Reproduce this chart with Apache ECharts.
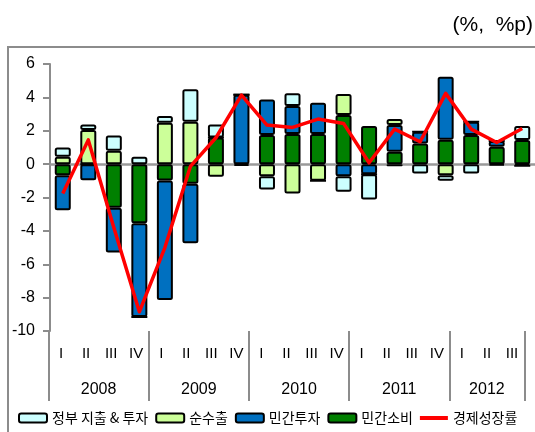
<!DOCTYPE html>
<html>
<head>
<meta charset="utf-8">
<script src="https://cdn.jsdelivr.net/npm/echarts@6/dist/echarts.min.js"></script>
<style>
html,body{margin:0;padding:0;background:#fff;}
#c{width:535px;height:432px;}
</style>
</head>
<body>
<div id="c"></div>
<script>
// ---- data ----
const years = ['2008', '2009', '2010', '2011', '2012'];
const quarterNames = ['I', 'II', 'III', 'IV'];
const quarterCount = [4, 4, 4, 4, 3];

// contributions (%p)
const consumption = [-0.66, 0, -2.62, -3.54, -0.98, -1.18, 1.6, -0.1, 1.74, 1.8, 1.8, 2.94, 2.28, 0.74, 1.24, 1.46, 1.74, 1.04, 1.44];   // 민간소비
const investment  = [-2.1, -0.96, -2.68, -5.62, -7.16, -3.56, 0, 4.15, 2.14, 1.68, 1.88, -0.72, -0.6, 1.6, 0.7, 3.78, 0.8, 0.34, -0.1]; // 민간투자
const netExports  = [0.44, 2.04, 0.8, 0, 2.48, 2.54, -0.76, 0, -0.72, -1.76, -1.0, 1.26, 0, 0.36, 0, -0.66, 0, 0, 0];                 // 순수출
const government  = [0.56, 0.34, 0.92, 0.44, 0.4, 1.94, 0.78, 0, -0.8, 0.76, 0, -0.94, -1.52, -0.12, -0.56, -0.34, -0.56, -0.08, 0.84]; // 정부 지출 & 투자
const gdpGrowth   = [-1.76, 1.45, -3.8, -8.85, -5.0, -0.14, 1.58, 4.14, 2.34, 2.2, 2.7, 2.44, 0.08, 2.1, 1.34, 4.24, 2.1, 1.3, 2.14]; // 경제성장률

const seriesNames = ['정부 지출 & 투자', '순수출', '민간투자', '민간소비', '경제성장률'];
const seriesColors = ['#ccffff', '#ccff99', '#0070c0', '#008000', '#ff0000'];

// ---- derived category lists ----
const categories = [];
const quarterLabels = [];
years.forEach((y, yi) => {
  for (let q = 0; q < quarterCount[yi]; q++) {
    categories.push(y + ' ' + quarterNames[q]);
    quarterLabels.push(quarterNames[q]);
  }
});
const nQ = categories.length;
// half-step positions for year labels / separators
const halfSteps = [];
const halfLabel = {};
const sepIdx = {};
let start = 0;
years.forEach((y, yi) => {
  sepIdx[start * 2] = true;
  halfLabel[start * 2 + quarterCount[yi]] = y;
  start += quarterCount[yi];
});
sepIdx[start * 2] = true;
for (let i = 0; i <= nQ * 2; i++) halfSteps.push(String(i));

const numFont = "'Liberation Sans', Arial, sans-serif";
const kr = "'Noto Sans CJK KR', 'Noto Sans', sans-serif";
const gray = '#8c8c8c';

const chart = echarts.init(document.getElementById('c'));

function barSeries(name, data, color) {
  return {
    name: name,
    type: 'bar',
    stack: 'total',
    xAxisIndex: 0,
    yAxisIndex: 0,
    barWidth: 16,
    data: data,
    itemStyle: { color: color, borderColor: '#000', borderWidth: 2, borderRadius: 1.5 }
  };
}

chart.setOption({
  animation: false,
  backgroundColor: '#fff',
  title: {
    text: '(%,  %p)',
    right: -3,
    top: 10,
    textStyle: { fontFamily: numFont, fontSize: 21, fontWeight: 'normal', color: '#000' }
  },
  graphic: [{
    type: 'rect',
    shape: { x: 8, y: 47, width: 540, height: 400 },
    style: { fill: 'none', stroke: gray, lineWidth: 2 },
    silent: true,
    z: -1
  }],
  legend: {
    data: [
      seriesNames[0], seriesNames[1], seriesNames[2], seriesNames[3],
      { name: seriesNames[4], icon: 'path://M0,0M28,9M0,2.5h28v4h-28z' }
    ],
    left: 13,
    bottom: 2,
    width: 600,
    itemWidth: 28,
    itemHeight: 9,
    itemGap: 7,
    textStyle: { fontFamily: kr, fontSize: 14, color: '#000' }
  },
  grid: [
    { left: 50, top: 64, width: 486, height: 267 },
    { left: 48.5, top: 64, width: 476, height: 267 }
  ],
  xAxis: [
    {
      type: 'category',
      gridIndex: 0,
      data: categories,
      axisLine: { show: true, onZero: true, lineStyle: { color: '#999', width: 2.5 } },
      axisTick: { show: false },
      axisLabel: { show: false }
    },
    {
      type: 'category',
      gridIndex: 1,
      position: 'bottom',
      data: categories,
      axisLine: { show: false },
      axisTick: { show: false },
      axisLabel: {
        interval: 0,
        margin: 15,
        formatter: (v, i) => quarterLabels[i],
        fontFamily: numFont, fontSize: 15, color: '#000'
      }
    },
    {
      type: 'category',
      gridIndex: 1,
      position: 'bottom',
      offset: 0,
      data: halfSteps,
      boundaryGap: false,
      axisLine: { show: false },
      axisTick: {
        show: true,
        interval: (i) => !!sepIdx[i],
        length: 70,
        lineStyle: { color: gray, width: 2 }
      },
      axisLabel: {
        interval: 0,
        margin: 51,
        formatter: (v, i) => halfLabel[i] || '',
        fontFamily: numFont, fontSize: 16, color: '#000'
      }
    }
  ],
  yAxis: [
    {
      type: 'value',
      gridIndex: 0,
      min: -10,
      max: 6,
      interval: 2,
      axisLine: { show: true, lineStyle: { color: gray, width: 2 } },
      axisTick: { show: true, length: 7, lineStyle: { color: gray, width: 2 } },
      splitLine: { show: false },
      axisLabel: { margin: 15, fontFamily: numFont, fontSize: 16, color: '#000' }
    },
    {
      type: 'value',
      gridIndex: 1,
      show: false,
      min: -10,
      max: 6
    }
  ],
  series: [
    barSeries(seriesNames[3], consumption, seriesColors[3]),
    barSeries(seriesNames[2], investment, seriesColors[2]),
    barSeries(seriesNames[1], netExports, seriesColors[1]),
    barSeries(seriesNames[0], government, seriesColors[0]),
    {
      name: seriesNames[4],
      type: 'line',
      xAxisIndex: 0,
      yAxisIndex: 0,
      data: gdpGrowth,
      symbol: 'none',
      showSymbol: false,
      z: 10,
      itemStyle: { color: seriesColors[4] },
      lineStyle: { color: seriesColors[4], width: 3.5, join: 'round' }
    }
  ]
});
</script>
</body>
</html>
